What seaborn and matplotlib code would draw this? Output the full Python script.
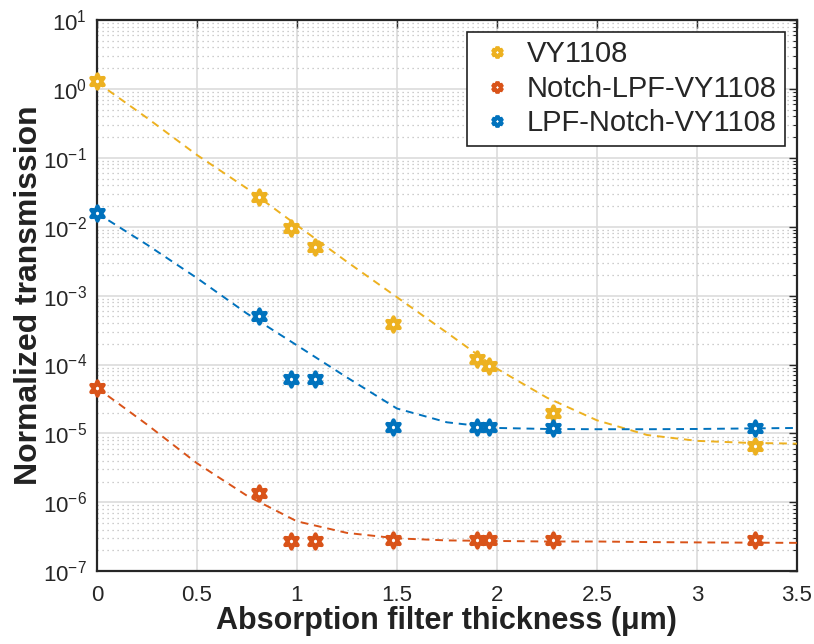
import numpy as np
import pandas as pd
import matplotlib
matplotlib.use("Agg")
import matplotlib.pyplot as plt
from matplotlib.lines import Line2D
from matplotlib.ticker import NullFormatter, FixedLocator
import seaborn as sns

# ---- data ----
thickness = [0.0, 0.81, 0.97, 1.09, 1.48, 1.90, 1.96, 2.28, 3.29]
vy1108 = [1.28, 0.027, 0.0096, 0.0051, 3.9e-4, 1.22e-4, 9.5e-5, 2.0e-5, 6.6e-6]
notch_lpf_vy1108 = [4.6e-5, 1.38e-6, 2.75e-7, 2.75e-7, 2.8e-7, 2.8e-7, 2.8e-7, 2.8e-7, 2.8e-7]
lpf_notch_vy1108 = [0.0158, 5.1e-4, 6.2e-5, 6.2e-5, 1.23e-5, 1.22e-5, 1.22e-5, 1.2e-5, 1.2e-5]

fit_x = [0.0, 0.25, 0.5, 0.75, 1.0, 1.25, 1.5, 1.75, 2.0, 2.25, 2.5, 2.75, 3.0, 3.25, 3.5]
fit_vy1108 = [1.25, 0.38, 0.11, 0.036, 0.0105, 3.1e-3, 9.5e-4, 2.9e-4, 8.7e-5, 3.3e-5,
              1.55e-5, 9.5e-6, 7.8e-6, 7.3e-6, 7.1e-6]
fit_notch_lpf = [4.6e-5, 1.35e-5, 3.7e-6, 1.25e-6, 5.3e-7, 3.6e-7, 3.0e-7, 2.8e-7, 2.75e-7,
                 2.7e-7, 2.7e-7, 2.65e-7, 2.62e-7, 2.6e-7, 2.58e-7]
fit_lpf_notch = [0.0158, 5.5e-3, 1.8e-3, 5.5e-4, 1.9e-4, 6.5e-5, 2.3e-5, 1.45e-5, 1.2e-5,
                 1.16e-5, 1.15e-5, 1.15e-5, 1.16e-5, 1.18e-5, 1.2e-5]

series_names = ["VY1108", "Notch-LPF-VY1108", "LPF-Notch-VY1108"]
colors = ["#EDB120", "#D95319", "#0072BD"]

x_ticks = [0, 0.5, 1, 1.5, 2, 2.5, 3, 3.5]
x_tick_labels = ["0", "0.5", "1", "1.5", "2", "2.5", "3", "3.5"]
y_exponents = [-7, -6, -5, -4, -3, -2, -1, 0, 1]

# ---- style ----
sns.set_style("white")
plt.rcParams["font.family"] = ["Liberation Sans", "DejaVu Sans"]
plt.rcParams["mathtext.default"] = "regular"
plt.rcParams["axes.unicode_minus"] = False

fig = plt.figure(figsize=(8.14, 6.44), dpi=100)
ax = fig.add_axes([0.119, 0.113, 0.860, 0.856])

pts = pd.DataFrame({
    "x": thickness * 3,
    "y": vy1108 + notch_lpf_vy1108 + lpf_notch_vy1108,
    "s": sum([[n] * len(thickness) for n in series_names], []),
})
fits = pd.DataFrame({
    "x": fit_x * 3,
    "y": fit_vy1108 + fit_notch_lpf + fit_lpf_notch,
    "s": sum([[n] * len(fit_x) for n in series_names], []),
})
palette = dict(zip(series_names, colors))

ax.set_yscale("log")

sns.lineplot(data=fits, x="x", y="y", hue="s", palette=palette, ax=ax,
             linestyle=(0, (4, 3)), linewidth=1.4, legend=False, zorder=3)

star = (6, 1, 0)
for name in series_names:
    sub = pts[pts.s == name]
    sns.scatterplot(data=sub, x="x", y="y", ax=ax, marker=star, s=105,
                    facecolor="white", edgecolor=palette[name], linewidth=3.0,
                    legend=False, zorder=4, clip_on=False)

ax.set_xlim(0, 3.5)
ax.set_ylim(1e-7, 1e1)
ax.xaxis.set_major_locator(FixedLocator(x_ticks))
ax.set_xticklabels(x_tick_labels)
major_y = [10.0 ** e for e in y_exponents]
minor_y = [m * 10.0 ** e for e in y_exponents[:-1] for m in range(2, 10)]
ax.yaxis.set_major_locator(FixedLocator(major_y))
ax.set_yticklabels([f"$10^{{{e}}}$" for e in y_exponents])
ax.yaxis.set_minor_locator(FixedLocator(minor_y))
ax.yaxis.set_minor_formatter(NullFormatter())

ax.grid(True, which="major", color="#dcdcdc", linewidth=1.2, zorder=0)
ax.grid(True, which="minor", axis="y", color="#bdbdbd", linewidth=0.9,
        linestyle=(0, (1, 3)), zorder=0)
ax.set_axisbelow(True)

axc = "#262626"
for sp in ax.spines.values():
    sp.set_visible(True)
    sp.set_color(axc)
    sp.set_linewidth(1.6)
ax.tick_params(axis="both", which="both", direction="in", top=True, right=True,
               colors=axc, labelcolor=axc)
ax.tick_params(axis="both", which="major", length=6, width=1.0, labelsize=16, pad=7)
ax.tick_params(axis="x", which="major", pad=10)
ax.tick_params(axis="y", which="minor", length=3, width=0.8)

ax.set_xlabel("Absorption filter thickness (μm)", fontsize=22, fontweight="bold",
              color="#222222", labelpad=0)
ax.set_ylabel("Normalized transmission", fontsize=23, fontweight="bold",
              color="#222222", labelpad=-1)

handles = [Line2D([], [], linestyle="none", marker=star, markersize=8,
                  markerfacecolor="white", markeredgecolor=c, markeredgewidth=2.8)
           for c in colors]
leg = ax.legend(handles, series_names, loc="upper right", fontsize=21,
                frameon=True, fancybox=False, framealpha=1, edgecolor="#222222",
                borderaxespad=0.4, handletextpad=0.25, handlelength=1.5,
                labelspacing=0.22, borderpad=0.3)
leg.get_frame().set_linewidth(1.2)
leg.set_zorder(10)

fig.savefig("out.png", dpi=100)
